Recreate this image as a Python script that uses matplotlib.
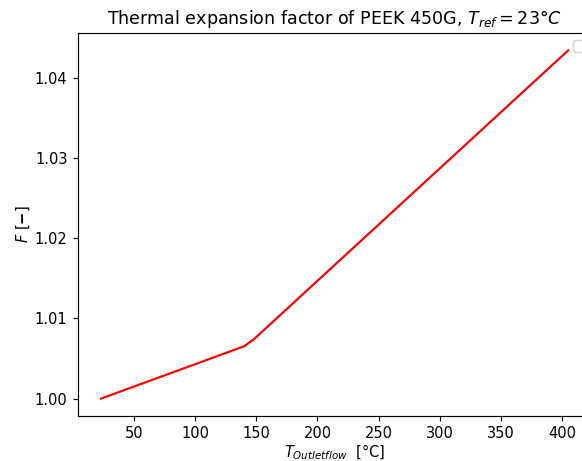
import matplotlib
matplotlib.use("Agg")
import matplotlib.pyplot as plt

# temperature [degC] and thermal expansion factor
temps = [23, 140, 148, 405]
factor = [1.0, 1.00652, 1.00740, 1.0434]

DPI = 105


def main():
    fig = plt.figure(figsize=(582 / DPI, 461 / DPI), dpi=DPI)
    # axes run past the right edge of the picture, as in the cropped original
    ax = fig.add_axes([0.1335, 0.0976, 0.8828, 0.8308])
    ax.plot(temps, factor, color="red", label="_nolegend_")
    ax.legend(loc="upper right")
    ax.set_title(r"Thermal expansion factor of PEEK 450G, $T_{ref} = 23°C$")
    ax.set_xlabel(r"$T_{Outletflow}$  [°C]", labelpad=1)
    ax.set_ylabel(r"$F$ [$\mathbf{-}$]", labelpad=2)
    ax.set_yticks([1.00, 1.01, 1.02, 1.03, 1.04])
    fig.savefig("out.png", dpi=DPI)
    plt.close(fig)


if __name__ == "__main__":
    main()
